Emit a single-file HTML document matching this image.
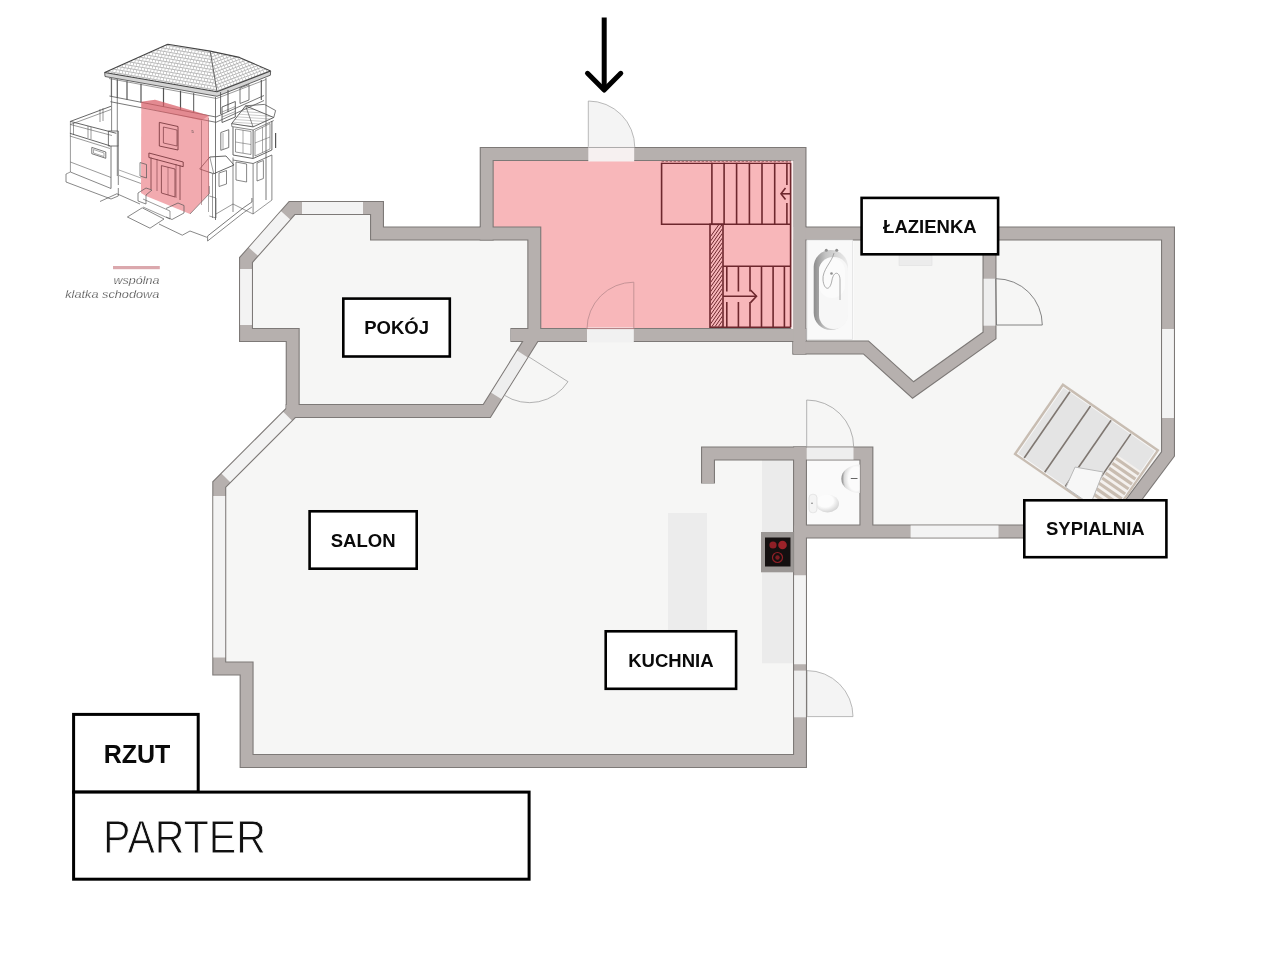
<!DOCTYPE html>
<html><head><meta charset="utf-8"><style>
html,body{margin:0;padding:0;background:#fff;width:1280px;height:960px;overflow:hidden;}
svg{position:absolute;left:0;top:0;transform:translateZ(0);}
text{font-family:"Liberation Sans",sans-serif;}
</style></head><body>
<svg width="1280" height="960" viewBox="0 0 1280 960">
<polygon points="292.00,208.00 377.00,208.00 377.00,233.50 486.70,233.50 486.70,154.00 799.50,154.00 799.50,233.50 1168.00,233.50 1168.00,454.00 1110.00,531.50 800.00,531.50 800.00,761.00 246.60,761.00 246.60,668.50 219.25,668.50 219.25,484.50 292.70,411.00 292.70,335.00 246.00,335.00 246.00,260.00" fill="#f6f6f5"/>
<polygon points="493,160.5 793.2,160.5 793.2,329 540.7,329 540.7,227.1 493,227.1" fill="#f8b7ba"/>
<path d="M588.3,147.5 L588.3,101 A46.5,46.5 0 0 1 634.8,147.5 Z" fill="#f4f4f4" stroke="#a8a8a8" stroke-width="0.8"/>
<path d="M807,716.6 L853,716.6 A46,46 0 0 0 807,670.6 Z" fill="#f4f4f4" stroke="#a8a8a8" stroke-width="0.8"/>
<rect x="806" y="459" width="54.5" height="67" fill="#fafafa"/>
<rect x="806" y="239" width="48" height="101" fill="#fafafa"/>
<rect x="762" y="459.8" width="31.7" height="203.5" fill="#ebebeb"/>
<rect x="668" y="513" width="39" height="117" fill="#ececec"/>
<polygon points="292.00,208.00 377.00,208.00 377.00,233.50 486.70,233.50 486.70,154.00 799.50,154.00 799.50,233.50 1168.00,233.50 1168.00,454.00 1110.00,531.50 800.00,531.50 800.00,761.00 246.60,761.00 246.60,668.50 219.25,668.50 219.25,484.50 292.70,411.00 292.70,335.00 246.00,335.00 246.00,260.00" fill="none" stroke="#7d7977" stroke-width="14.0" stroke-linejoin="miter" stroke-miterlimit="10"/>
<polyline points="285.70,411.00 486.80,411.00 534.30,335.00 534.30,233.50 479.70,233.50" fill="none" stroke="#7d7977" stroke-width="14.0" stroke-linejoin="miter"/>
<polyline points="510.40,335.00 806.50,335.00" fill="none" stroke="#7d7977" stroke-width="14.0" stroke-linejoin="miter"/>
<polyline points="792.50,347.50 866.00,347.50 913.00,390.00 989.50,335.50 989.50,226.50" fill="none" stroke="#7d7977" stroke-width="14.0" stroke-linejoin="miter"/>
<polyline points="708.00,483.60 708.00,453.50 866.40,453.50 866.40,532.10" fill="none" stroke="#7d7977" stroke-width="14.0" stroke-linejoin="miter"/>
<polyline points="800.00,446.50 800.00,532.10" fill="none" stroke="#7d7977" stroke-width="14.0" stroke-linejoin="miter"/>
<polyline points="799.50,226.50 799.50,354.60" fill="none" stroke="#7d7977" stroke-width="14.0" stroke-linejoin="miter"/>
<polygon points="292.00,208.00 377.00,208.00 377.00,233.50 486.70,233.50 486.70,154.00 799.50,154.00 799.50,233.50 1168.00,233.50 1168.00,454.00 1110.00,531.50 800.00,531.50 800.00,761.00 246.60,761.00 246.60,668.50 219.25,668.50 219.25,484.50 292.70,411.00 292.70,335.00 246.00,335.00 246.00,260.00" fill="none" stroke="#b6b0ae" stroke-width="11.8" stroke-linejoin="miter" stroke-miterlimit="10"/>
<polyline points="286.30,411.00 486.80,411.00 534.30,335.00 534.30,233.50 480.30,233.50" fill="none" stroke="#b6b0ae" stroke-width="11.8" stroke-linejoin="miter"/>
<polyline points="511.00,335.00 805.90,335.00" fill="none" stroke="#b6b0ae" stroke-width="11.8" stroke-linejoin="miter"/>
<polyline points="793.10,347.50 866.00,347.50 913.00,390.00 989.50,335.50 989.50,227.10" fill="none" stroke="#b6b0ae" stroke-width="11.8" stroke-linejoin="miter"/>
<polyline points="708.00,483.00 708.00,453.50 866.40,453.50 866.40,531.50" fill="none" stroke="#b6b0ae" stroke-width="11.8" stroke-linejoin="miter"/>
<polyline points="800.00,447.10 800.00,531.50" fill="none" stroke="#b6b0ae" stroke-width="11.8" stroke-linejoin="miter"/>
<polyline points="799.50,227.10 799.50,354.00" fill="none" stroke="#b6b0ae" stroke-width="11.8" stroke-linejoin="miter"/>
<polyline points="302.00,208.00 363.00,208.00" fill="none" stroke="#f3f3f3" stroke-width="11.8"/>
<polyline points="285.56,215.28 253.36,251.68" fill="none" stroke="#f3f3f3" stroke-width="11.8"/>
<polyline points="246.00,269.00 246.00,325.00" fill="none" stroke="#f3f3f3" stroke-width="11.8"/>
<polyline points="287.56,416.14 225.86,477.88" fill="none" stroke="#f3f3f3" stroke-width="11.8"/>
<polyline points="219.25,496.00 219.25,657.50" fill="none" stroke="#f3f3f3" stroke-width="11.8"/>
<polyline points="1168.00,329.00 1168.00,418.00" fill="none" stroke="#f3f3f3" stroke-width="11.8"/>
<polyline points="910.60,531.50 998.50,531.50" fill="none" stroke="#f3f3f3" stroke-width="11.8"/>
<polyline points="800.00,575.20 800.00,664.20" fill="none" stroke="#f3f3f3" stroke-width="11.8"/>
<polyline points="522.42,354.00 496.30,395.80" fill="none" stroke="#eeeeee" stroke-width="11.8"/>
<polyline points="806.70,453.50 853.50,453.50" fill="none" stroke="#eeeeee" stroke-width="11.8"/>
<polyline points="989.50,278.70 989.50,325.70" fill="none" stroke="#eeeeee" stroke-width="11.8"/>
<polyline points="800.00,670.60 800.00,717.30" fill="none" stroke="#eeeeee" stroke-width="11.8"/>
<line x1="588.3" y1="154" x2="634.2" y2="154" stroke="#f6f0f0" stroke-width="14.8"/>
<line x1="588.3" y1="147.5" x2="634.2" y2="147.5" stroke="#9a9a9a" stroke-width="0.8"/>
<line x1="587" y1="335" x2="633.8" y2="335" stroke="#f1f1f1" stroke-width="14.8"/>
<path d="M633.8,329 L633.8,282.2 A46.8,46.8 0 0 0 587,329" fill="none" stroke="#b98a8e" stroke-width="0.8"/>
<line x1="587" y1="328.6" x2="633.8" y2="328.6" stroke="#9c5a60" stroke-width="0.8"/>
<path d="M529,357 L568,381.7 A46,46 0 0 1 504,395" fill="none" stroke="#a0a0a0" stroke-width="0.8"/>
<path d="M806.7,447.1 L806.7,400 A47,47 0 0 1 853.7,447.1" fill="none" stroke="#a0a0a0" stroke-width="0.8"/>
<path d="M995.6,278.7 L996.5,325 L1042.3,325 A46.3,46.3 0 0 0 996,278.7" fill="none" stroke="#777" stroke-width="0.9"/>
<rect x="791.2" y="160.5" width="2.2" height="168.5" fill="#fbeeee"/>
<g stroke="#6d272d" stroke-width="1.6" fill="none">
<line x1="661.6" y1="161.4" x2="790.6" y2="161.4" stroke-dasharray="2.5,1.5" stroke-width="0.9" stroke="#9a5a60"/>
<line x1="661.6" y1="163.3" x2="790.6" y2="163.3" stroke-width="1.3"/>
<polyline points="661.6,162.8 661.6,224.3 790.6,224.3"/>
<line x1="711.9" y1="162.8" x2="711.9" y2="224.3"/>
<line x1="724.1" y1="162.8" x2="724.1" y2="224.3"/>
<line x1="736.6" y1="162.8" x2="736.6" y2="224.3"/>
<line x1="749.4" y1="162.8" x2="749.4" y2="224.3"/>
<line x1="762" y1="162.8" x2="762" y2="224.3"/>
<line x1="774.7" y1="162.8" x2="774.7" y2="224.3"/>
<line x1="786.9" y1="162.8" x2="786.9" y2="185"/>
<line x1="786.9" y1="203" x2="786.9" y2="224.3"/>
<line x1="781" y1="193.8" x2="790" y2="193.8"/>
<polyline points="785.5,188 781,193.8 785.5,199.6"/>
<line x1="790.6" y1="162.8" x2="790.6" y2="327.2"/>
<rect x="710" y="224.3" width="13" height="102.9"/>
</g>
<clipPath id="strc"><rect x="710.7" y="225" width="11.6" height="101.5"/></clipPath>
<g clip-path="url(#strc)" stroke="#6d272d" stroke-width="1">
<line x1="723.5" y1="218.0" x2="709.5" y2="238.0"/>
<line x1="723.5" y1="222.6" x2="709.5" y2="242.6"/>
<line x1="723.5" y1="227.2" x2="709.5" y2="247.2"/>
<line x1="723.5" y1="231.8" x2="709.5" y2="251.8"/>
<line x1="723.5" y1="236.4" x2="709.5" y2="256.4"/>
<line x1="723.5" y1="241.0" x2="709.5" y2="261.0"/>
<line x1="723.5" y1="245.6" x2="709.5" y2="265.6"/>
<line x1="723.5" y1="250.2" x2="709.5" y2="270.2"/>
<line x1="723.5" y1="254.8" x2="709.5" y2="274.8"/>
<line x1="723.5" y1="259.4" x2="709.5" y2="279.4"/>
<line x1="723.5" y1="264.0" x2="709.5" y2="284.0"/>
<line x1="723.5" y1="268.6" x2="709.5" y2="288.6"/>
<line x1="723.5" y1="273.2" x2="709.5" y2="293.2"/>
<line x1="723.5" y1="277.8" x2="709.5" y2="297.8"/>
<line x1="723.5" y1="282.4" x2="709.5" y2="302.4"/>
<line x1="723.5" y1="287.0" x2="709.5" y2="307.0"/>
<line x1="723.5" y1="291.6" x2="709.5" y2="311.6"/>
<line x1="723.5" y1="296.2" x2="709.5" y2="316.2"/>
<line x1="723.5" y1="300.8" x2="709.5" y2="320.8"/>
<line x1="723.5" y1="305.4" x2="709.5" y2="325.4"/>
<line x1="723.5" y1="310.0" x2="709.5" y2="330.0"/>
<line x1="723.5" y1="314.6" x2="709.5" y2="334.6"/>
<line x1="723.5" y1="319.2" x2="709.5" y2="339.2"/>
<line x1="723.5" y1="323.8" x2="709.5" y2="343.8"/>
<line x1="723.5" y1="328.4" x2="709.5" y2="348.4"/>
<line x1="723.5" y1="333.0" x2="709.5" y2="353.0"/>
<line x1="723.5" y1="337.6" x2="709.5" y2="357.6"/>
<line x1="723.5" y1="342.2" x2="709.5" y2="362.2"/>
<line x1="723.5" y1="346.8" x2="709.5" y2="366.8"/>
<line x1="723.5" y1="351.4" x2="709.5" y2="371.4"/>
</g>
<g stroke="#6d272d" stroke-width="1.6" fill="none">
<line x1="723" y1="266.3" x2="790.6" y2="266.3"/>
<line x1="723" y1="327.2" x2="790.6" y2="327.2"/>
<line x1="761.5" y1="266.3" x2="761.5" y2="327.2"/>
<line x1="773.1" y1="266.3" x2="773.1" y2="327.2"/>
<line x1="784.4" y1="266.3" x2="784.4" y2="327.2"/>
<line x1="726.8" y1="266.3" x2="726.8" y2="291.5"/>
<line x1="726.8" y1="302" x2="726.8" y2="327.2"/>
<line x1="738.4" y1="266.3" x2="738.4" y2="291.5"/>
<line x1="738.4" y1="302" x2="738.4" y2="327.2"/>
<line x1="750" y1="266.3" x2="750" y2="291.5"/>
<line x1="750" y1="302" x2="750" y2="327.2"/>
<line x1="723" y1="296.3" x2="756.3" y2="296.3"/>
<polyline points="750.5,290 756.5,296.3 750.5,302.6"/>
</g>
<rect x="807" y="240" width="45.5" height="99.5" fill="#f9f9f9" stroke="#e2e2e2" stroke-width="0.8"/>
<defs><linearGradient id="tubg" x1="0" y1="0" x2="1" y2="0"><stop offset="0" stop-color="#8c8c8c"/><stop offset="0.35" stop-color="#c4c4c4"/><stop offset="1" stop-color="#ececec"/></linearGradient></defs>
<rect x="813.7" y="250" width="34.3" height="80" rx="17" ry="17" fill="url(#tubg)"/>
<rect x="819" y="257" width="29" height="72" rx="14" ry="14" fill="#f7f7f7"/>
<rect x="819" y="258" width="26" height="40" rx="13" ry="13" fill="#fbfbfb"/>
<path d="M834,253 C 832,262 822,270 823,280 C 824,290 830,292 832,280 C 834,270 840,272 840,280 L 840,300" fill="none" stroke="#8a8a8a" stroke-width="0.7"/>
<circle cx="826.3" cy="250.3" r="1.5" fill="#8e8e8e"/><circle cx="836.7" cy="250.3" r="1.5" fill="#8e8e8e"/><circle cx="831.5" cy="273.5" r="1.3" fill="#8e8e8e"/>
<rect x="899" y="255.6" width="33" height="10" fill="#ececec" stroke="#e0e0e0" stroke-width="0.6"/>
<defs><radialGradient id="sinkg" cx="80%" cy="50%" r="75%"><stop offset="0.55" stop-color="#fbfbfb"/><stop offset="0.85" stop-color="#dcdcdc"/><stop offset="1" stop-color="#9a9a9a"/></radialGradient></defs>
<path d="M859.8,464.6 A18.5,14.2 0 0 0 859.8,493 Z" fill="url(#sinkg)"/>
<path d="M857.5,478.5 l-6.7,0" stroke="#666" stroke-width="1"/>
<defs><radialGradient id="toig" cx="40%" cy="35%" r="70%"><stop offset="0.5" stop-color="#fcfcfc"/><stop offset="1" stop-color="#cfcfcf"/></radialGradient></defs>
<ellipse cx="827.5" cy="503.5" rx="11.5" ry="9" fill="url(#toig)"/>
<rect x="809" y="494.3" width="8" height="18.4" rx="3.5" fill="#f4f4f4" stroke="#d9d9d9" stroke-width="0.6"/>
<circle cx="812" cy="503.3" r="0.8" fill="#777"/>
<rect x="761" y="532" width="32.7" height="40.3" fill="#9b9795"/>
<rect x="765" y="537.5" width="25.5" height="29" fill="#141010"/>
<circle cx="773" cy="545" r="3.6" fill="#8f1f26"/><circle cx="782.5" cy="545" r="4.3" fill="#9b2229"/>
<circle cx="777.5" cy="557.5" r="5" fill="none" stroke="#8f1f26" stroke-width="1.2"/><circle cx="777.5" cy="557.5" r="2.2" fill="#7a1c22"/>
<g transform="translate(1062.6,383.1) rotate(34.66)">
<rect x="0" y="0" width="117.8" height="86.5" fill="#c8bdb2"/>
<rect x="2.4" y="2.4" width="113" height="81.7" fill="#f8f8f8"/>
<rect x="3.4" y="3.4" width="111" height="79.7" fill="#e4e4e4"/>
<line x1="11" y1="3" x2="11" y2="83.5" stroke="#7f7771" stroke-width="1.6"/>
<line x1="36" y1="3" x2="36" y2="83.5" stroke="#7f7771" stroke-width="1.6"/>
<line x1="61" y1="3" x2="61" y2="83.5" stroke="#7f7771" stroke-width="1.6"/>
<line x1="85" y1="3" x2="85" y2="83.5" stroke="#7f7771" stroke-width="1.6"/>
<rect x="86.5" y="28" width="28" height="56" fill="#f4f1ee"/>
<rect x="86.5" y="30" width="28" height="3.2" fill="#c9bdb1"/>
<rect x="86.5" y="36" width="28" height="3.2" fill="#c9bdb1"/>
<rect x="86.5" y="42" width="28" height="3.2" fill="#c9bdb1"/>
<rect x="86.5" y="48" width="28" height="3.2" fill="#c9bdb1"/>
<rect x="86.5" y="54" width="28" height="3.2" fill="#c9bdb1"/>
<rect x="86.5" y="60" width="28" height="3.2" fill="#c9bdb1"/>
<rect x="86.5" y="66" width="28" height="3.2" fill="#c9bdb1"/>
<rect x="86.5" y="72" width="28" height="3.2" fill="#c9bdb1"/>
<rect x="86.5" y="78" width="28" height="3.2" fill="#c9bdb1"/>
<path d="M58,62 L84,50 L92,84 L62,84 Z" fill="#f7f7f7" stroke="#b9b9b9" stroke-width="0.9"/>
</g>
<g>
<clipPath id="roofL"><polygon points="167.7,44.2 210.2,51.1 217,91.8 104.7,72.5"/></clipPath>
<clipPath id="roofR"><polygon points="210.2,51.1 239.4,57.4 270.6,71 217,91.8"/></clipPath>
<g clip-path="url(#roofL)" stroke="#7d7d7d" stroke-width="0.55">
<line x1="100" y1="27.2" x2="220" y2="47.8"/>
<line x1="100.0" y1="28.8" x2="220.0" y2="49.4" stroke-dasharray="0.7,2.5" stroke-width="2.4" stroke="#b5b5b5"/>
<line x1="100" y1="30.5" x2="220" y2="51.1"/>
<line x1="101.6" y1="32.1" x2="221.6" y2="52.7" stroke-dasharray="0.7,2.5" stroke-width="2.4" stroke="#b5b5b5"/>
<line x1="100" y1="33.8" x2="220" y2="54.4"/>
<line x1="100.0" y1="35.4" x2="220.0" y2="56.0" stroke-dasharray="0.7,2.5" stroke-width="2.4" stroke="#b5b5b5"/>
<line x1="100" y1="37.1" x2="220" y2="57.7"/>
<line x1="101.6" y1="38.7" x2="221.6" y2="59.3" stroke-dasharray="0.7,2.5" stroke-width="2.4" stroke="#b5b5b5"/>
<line x1="100" y1="40.4" x2="220" y2="61.0"/>
<line x1="100.0" y1="42.0" x2="220.0" y2="62.6" stroke-dasharray="0.7,2.5" stroke-width="2.4" stroke="#b5b5b5"/>
<line x1="100" y1="43.7" x2="220" y2="64.3"/>
<line x1="101.6" y1="45.3" x2="221.6" y2="65.9" stroke-dasharray="0.7,2.5" stroke-width="2.4" stroke="#b5b5b5"/>
<line x1="100" y1="47.0" x2="220" y2="67.6"/>
<line x1="100.0" y1="48.6" x2="220.0" y2="69.2" stroke-dasharray="0.7,2.5" stroke-width="2.4" stroke="#b5b5b5"/>
<line x1="100" y1="50.3" x2="220" y2="70.9"/>
<line x1="101.6" y1="51.9" x2="221.6" y2="72.5" stroke-dasharray="0.7,2.5" stroke-width="2.4" stroke="#b5b5b5"/>
<line x1="100" y1="53.6" x2="220" y2="74.2"/>
<line x1="100.0" y1="55.2" x2="220.0" y2="75.8" stroke-dasharray="0.7,2.5" stroke-width="2.4" stroke="#b5b5b5"/>
<line x1="100" y1="56.9" x2="220" y2="77.5"/>
<line x1="101.6" y1="58.5" x2="221.6" y2="79.1" stroke-dasharray="0.7,2.5" stroke-width="2.4" stroke="#b5b5b5"/>
<line x1="100" y1="60.2" x2="220" y2="80.8"/>
<line x1="100.0" y1="61.8" x2="220.0" y2="82.4" stroke-dasharray="0.7,2.5" stroke-width="2.4" stroke="#b5b5b5"/>
<line x1="100" y1="63.5" x2="220" y2="84.1"/>
<line x1="101.6" y1="65.1" x2="221.6" y2="85.7" stroke-dasharray="0.7,2.5" stroke-width="2.4" stroke="#b5b5b5"/>
<line x1="100" y1="66.8" x2="220" y2="87.4"/>
<line x1="100.0" y1="68.4" x2="220.0" y2="89.0" stroke-dasharray="0.7,2.5" stroke-width="2.4" stroke="#b5b5b5"/>
<line x1="100" y1="70.1" x2="220" y2="90.7"/>
<line x1="101.6" y1="71.7" x2="221.6" y2="92.3" stroke-dasharray="0.7,2.5" stroke-width="2.4" stroke="#b5b5b5"/>
<line x1="100" y1="73.4" x2="220" y2="94.0"/>
<line x1="100.0" y1="75.0" x2="220.0" y2="95.6" stroke-dasharray="0.7,2.5" stroke-width="2.4" stroke="#b5b5b5"/>
<line x1="100" y1="76.7" x2="220" y2="97.3"/>
<line x1="101.6" y1="78.3" x2="221.6" y2="98.9" stroke-dasharray="0.7,2.5" stroke-width="2.4" stroke="#b5b5b5"/>
<line x1="100" y1="80.0" x2="220" y2="100.6"/>
<line x1="100.0" y1="81.6" x2="220.0" y2="102.2" stroke-dasharray="0.7,2.5" stroke-width="2.4" stroke="#b5b5b5"/>
<line x1="100" y1="83.3" x2="220" y2="103.9"/>
<line x1="101.6" y1="84.9" x2="221.6" y2="105.5" stroke-dasharray="0.7,2.5" stroke-width="2.4" stroke="#b5b5b5"/>
<line x1="100" y1="86.6" x2="220" y2="107.2"/>
<line x1="100.0" y1="88.2" x2="220.0" y2="108.8" stroke-dasharray="0.7,2.5" stroke-width="2.4" stroke="#b5b5b5"/>
<line x1="100" y1="89.9" x2="220" y2="110.5"/>
<line x1="101.6" y1="91.5" x2="221.6" y2="112.1" stroke-dasharray="0.7,2.5" stroke-width="2.4" stroke="#b5b5b5"/>
<line x1="100" y1="93.2" x2="220" y2="113.8"/>
<line x1="100.0" y1="94.8" x2="220.0" y2="115.4" stroke-dasharray="0.7,2.5" stroke-width="2.4" stroke="#b5b5b5"/>
<line x1="100" y1="96.5" x2="220" y2="117.1"/>
<line x1="101.6" y1="98.1" x2="221.6" y2="118.7" stroke-dasharray="0.7,2.5" stroke-width="2.4" stroke="#b5b5b5"/>
<line x1="100" y1="99.8" x2="220" y2="120.4"/>
<line x1="100.0" y1="101.4" x2="220.0" y2="122.0" stroke-dasharray="0.7,2.5" stroke-width="2.4" stroke="#b5b5b5"/>
</g>
<g clip-path="url(#roofR)" stroke="#7d7d7d" stroke-width="0.55">
<line x1="205" y1="52.9" x2="275" y2="25.9"/>
<line x1="206.6" y1="54.5" x2="276.6" y2="27.5" stroke-dasharray="0.7,2.5" stroke-width="2.4" stroke="#b5b5b5"/>
<line x1="205" y1="56.2" x2="275" y2="29.2"/>
<line x1="205.0" y1="57.8" x2="275.0" y2="30.8" stroke-dasharray="0.7,2.5" stroke-width="2.4" stroke="#b5b5b5"/>
<line x1="205" y1="59.5" x2="275" y2="32.5"/>
<line x1="206.6" y1="61.1" x2="276.6" y2="34.1" stroke-dasharray="0.7,2.5" stroke-width="2.4" stroke="#b5b5b5"/>
<line x1="205" y1="62.8" x2="275" y2="35.8"/>
<line x1="205.0" y1="64.4" x2="275.0" y2="37.4" stroke-dasharray="0.7,2.5" stroke-width="2.4" stroke="#b5b5b5"/>
<line x1="205" y1="66.1" x2="275" y2="39.1"/>
<line x1="206.6" y1="67.7" x2="276.6" y2="40.7" stroke-dasharray="0.7,2.5" stroke-width="2.4" stroke="#b5b5b5"/>
<line x1="205" y1="69.4" x2="275" y2="42.4"/>
<line x1="205.0" y1="71.0" x2="275.0" y2="44.0" stroke-dasharray="0.7,2.5" stroke-width="2.4" stroke="#b5b5b5"/>
<line x1="205" y1="72.7" x2="275" y2="45.7"/>
<line x1="206.6" y1="74.3" x2="276.6" y2="47.3" stroke-dasharray="0.7,2.5" stroke-width="2.4" stroke="#b5b5b5"/>
<line x1="205" y1="76.0" x2="275" y2="49.0"/>
<line x1="205.0" y1="77.6" x2="275.0" y2="50.6" stroke-dasharray="0.7,2.5" stroke-width="2.4" stroke="#b5b5b5"/>
<line x1="205" y1="79.3" x2="275" y2="52.3"/>
<line x1="206.6" y1="80.9" x2="276.6" y2="53.9" stroke-dasharray="0.7,2.5" stroke-width="2.4" stroke="#b5b5b5"/>
<line x1="205" y1="82.6" x2="275" y2="55.6"/>
<line x1="205.0" y1="84.2" x2="275.0" y2="57.2" stroke-dasharray="0.7,2.5" stroke-width="2.4" stroke="#b5b5b5"/>
<line x1="205" y1="85.9" x2="275" y2="58.9"/>
<line x1="206.6" y1="87.5" x2="276.6" y2="60.5" stroke-dasharray="0.7,2.5" stroke-width="2.4" stroke="#b5b5b5"/>
<line x1="205" y1="89.2" x2="275" y2="62.2"/>
<line x1="205.0" y1="90.8" x2="275.0" y2="63.8" stroke-dasharray="0.7,2.5" stroke-width="2.4" stroke="#b5b5b5"/>
<line x1="205" y1="92.5" x2="275" y2="65.5"/>
<line x1="206.6" y1="94.1" x2="276.6" y2="67.1" stroke-dasharray="0.7,2.5" stroke-width="2.4" stroke="#b5b5b5"/>
<line x1="205" y1="95.8" x2="275" y2="68.8"/>
<line x1="205.0" y1="97.4" x2="275.0" y2="70.4" stroke-dasharray="0.7,2.5" stroke-width="2.4" stroke="#b5b5b5"/>
<line x1="205" y1="99.1" x2="275" y2="72.1"/>
<line x1="206.6" y1="100.7" x2="276.6" y2="73.7" stroke-dasharray="0.7,2.5" stroke-width="2.4" stroke="#b5b5b5"/>
<line x1="205" y1="102.4" x2="275" y2="75.4"/>
<line x1="205.0" y1="104.0" x2="275.0" y2="77.0" stroke-dasharray="0.7,2.5" stroke-width="2.4" stroke="#b5b5b5"/>
<line x1="205" y1="105.7" x2="275" y2="78.7"/>
<line x1="206.6" y1="107.3" x2="276.6" y2="80.3" stroke-dasharray="0.7,2.5" stroke-width="2.4" stroke="#b5b5b5"/>
<line x1="205" y1="109.0" x2="275" y2="82.0"/>
<line x1="205.0" y1="110.6" x2="275.0" y2="83.6" stroke-dasharray="0.7,2.5" stroke-width="2.4" stroke="#b5b5b5"/>
<line x1="205" y1="112.3" x2="275" y2="85.3"/>
<line x1="206.6" y1="113.9" x2="276.6" y2="86.9" stroke-dasharray="0.7,2.5" stroke-width="2.4" stroke="#b5b5b5"/>
<line x1="205" y1="115.6" x2="275" y2="88.6"/>
<line x1="205.0" y1="117.2" x2="275.0" y2="90.2" stroke-dasharray="0.7,2.5" stroke-width="2.4" stroke="#b5b5b5"/>
<line x1="205" y1="118.9" x2="275" y2="91.9"/>
<line x1="206.6" y1="120.5" x2="276.6" y2="93.5" stroke-dasharray="0.7,2.5" stroke-width="2.4" stroke="#b5b5b5"/>
<line x1="205" y1="122.2" x2="275" y2="95.2"/>
<line x1="205.0" y1="123.8" x2="275.0" y2="96.8" stroke-dasharray="0.7,2.5" stroke-width="2.4" stroke="#b5b5b5"/>
<line x1="205" y1="125.5" x2="275" y2="98.5"/>
<line x1="206.6" y1="127.1" x2="276.6" y2="100.1" stroke-dasharray="0.7,2.5" stroke-width="2.4" stroke="#b5b5b5"/>
</g>
<polygon points="104.7,72.5 217,91.8 270.6,71 270.4,75.2 217,96.3 105,76.5" fill="#d4d4d4"/>
<polyline points="167.70,44.20 210.20,51.10 239.40,57.40 270.60,71.00 217.00,91.80 104.70,72.50 167.70,44.20" fill="none" stroke="#444" stroke-width="1.1" stroke-linejoin="round"/>
<polyline points="210.20,51.10 217.00,91.80" fill="none" stroke="#555" stroke-width="0.9" stroke-linejoin="round"/>
<polyline points="104.70,72.50 105.00,76.50 217.00,96.30 270.40,75.20 270.60,71.00" fill="none" stroke="#555" stroke-width="0.9" stroke-linejoin="round"/>
<polyline points="109.00,78.50 216.50,98.50 266.00,79.50" fill="none" stroke="#555" stroke-width="0.6" stroke-linejoin="round"/>
<polyline points="111.30,78.61 111.30,96.86" fill="none" stroke="#555" stroke-width="0.8" stroke-linejoin="round"/>
<polyline points="117.30,79.66 117.30,98.00" fill="none" stroke="#555" stroke-width="0.8" stroke-linejoin="round"/>
<polyline points="127.00,81.37 127.00,99.84" fill="none" stroke="#555" stroke-width="1.2" stroke-linejoin="round"/>
<polyline points="141.00,83.84 141.00,102.50" fill="none" stroke="#555" stroke-width="1.2" stroke-linejoin="round"/>
<polyline points="163.50,87.80 163.50,106.78" fill="none" stroke="#555" stroke-width="1.2" stroke-linejoin="round"/>
<polyline points="180.50,90.79 180.50,110.01" fill="none" stroke="#555" stroke-width="1.2" stroke-linejoin="round"/>
<polyline points="193.70,93.11 193.70,112.52" fill="none" stroke="#555" stroke-width="1" stroke-linejoin="round"/>
<polyline points="109.40,96.00 216.00,117.00" fill="none" stroke="#555" stroke-width="0.8" stroke-linejoin="round"/>
<polyline points="110.40,101.70 216.00,122.30" fill="none" stroke="#555" stroke-width="0.8" stroke-linejoin="round"/>
<polyline points="111.60,78.00 111.60,131.00" fill="none" stroke="#555" stroke-width="0.7" stroke-linejoin="round"/>
<polyline points="117.30,79.00 117.30,176.00" fill="none" stroke="#555" stroke-width="0.7" stroke-linejoin="round"/>
<polyline points="119.00,175.50 141.00,183.50" fill="none" stroke="#555" stroke-width="0.6" stroke-linejoin="round"/>
<polyline points="119.00,170.00 141.00,178.00" fill="none" stroke="#555" stroke-width="0.5" stroke-linejoin="round"/>
<polyline points="215.50,97.00 215.50,220.00" fill="none" stroke="#555" stroke-width="0.8" stroke-linejoin="round"/>
<polyline points="208.50,118.00 208.50,212.00" fill="none" stroke="#555" stroke-width="0.5" stroke-linejoin="round"/>
<polyline points="266.00,78.00 266.00,200.00" fill="none" stroke="#555" stroke-width="0.8" stroke-linejoin="round"/>
<polyline points="261.30,80.00 261.30,100.00" fill="none" stroke="#555" stroke-width="1.1" stroke-linejoin="round"/>
<polyline points="216.00,117.00 264.00,95.50" fill="none" stroke="#555" stroke-width="0.8" stroke-linejoin="round"/>
<polyline points="216.00,122.30 264.00,100.50" fill="none" stroke="#555" stroke-width="0.8" stroke-linejoin="round"/>
<polygon points="240.00,88.00 249.00,84.50 249.00,100.00 240.00,103.50" fill="none" stroke="#555" stroke-width="0.8" stroke-linejoin="round"/>
<polyline points="220.60,92.00 220.60,114.00" fill="none" stroke="#555" stroke-width="0.9" stroke-linejoin="round"/>
<polyline points="228.00,90.00 228.00,112.00" fill="none" stroke="#555" stroke-width="1" stroke-linejoin="round"/>
<polygon points="222.00,107.00 235.30,101.50 235.30,117.00 222.00,122.50" fill="none" stroke="#555" stroke-width="0.9" stroke-linejoin="round"/>
<polyline points="222.00,112.00 235.30,106.50" fill="none" stroke="#555" stroke-width="0.5" stroke-linejoin="round"/>
<polyline points="222.00,117.00 235.30,111.50" fill="none" stroke="#555" stroke-width="0.5" stroke-linejoin="round"/>
<polygon points="220.80,132.50 228.75,129.70 228.75,147.50 220.80,150.30" fill="none" stroke="#555" stroke-width="0.8" stroke-linejoin="round"/>
<polyline points="223.00,133.00 223.00,149.00" fill="none" stroke="#555" stroke-width="0.5" stroke-linejoin="round"/>
<clipPath id="bayR"><polygon points="245.6,105.8 231.6,123.6 253.1,126.9 273.75,117.5"/></clipPath>
<g clip-path="url(#bayR)" stroke="#8a8a8a" stroke-width="0.45">
<line x1="230" y1="108.0" x2="276" y2="111.0"/>
<line x1="230" y1="110.8" x2="276" y2="113.8"/>
<line x1="230" y1="113.6" x2="276" y2="116.6"/>
<line x1="230" y1="116.4" x2="276" y2="119.4"/>
<line x1="230" y1="119.2" x2="276" y2="122.2"/>
<line x1="230" y1="122.0" x2="276" y2="125.0"/>
<line x1="230" y1="124.8" x2="276" y2="127.8"/>
<line x1="230" y1="127.6" x2="276" y2="130.6"/>
</g>
<polyline points="245.60,105.80 231.60,123.60 253.10,126.90 273.75,117.50 245.60,105.80" fill="none" stroke="#555" stroke-width="0.9" stroke-linejoin="round"/>
<polyline points="245.60,105.80 253.10,126.90" fill="none" stroke="#555" stroke-width="0.7" stroke-linejoin="round"/>
<polyline points="245.60,105.80 264.40,104.40 275.60,110.50 273.75,117.50" fill="none" stroke="#555" stroke-width="0.8" stroke-linejoin="round"/>
<polyline points="231.60,123.60 231.80,126.50 253.10,130.00 273.75,120.50" fill="none" stroke="#555" stroke-width="0.7" stroke-linejoin="round"/>
<polyline points="233.00,127.00 233.00,155.00" fill="none" stroke="#555" stroke-width="0.9" stroke-linejoin="round"/>
<polyline points="253.10,130.00 253.10,158.00" fill="none" stroke="#555" stroke-width="0.9" stroke-linejoin="round"/>
<polyline points="271.90,121.00 271.90,150.00" fill="none" stroke="#555" stroke-width="0.9" stroke-linejoin="round"/>
<polygon points="235.50,129.00 235.50,152.00 251.00,154.50 251.00,131.50" fill="none" stroke="#555" stroke-width="0.6" stroke-linejoin="round"/>
<polyline points="243.00,130.00 243.00,153.00" fill="none" stroke="#555" stroke-width="0.5" stroke-linejoin="round"/>
<polyline points="235.50,142.00 251.00,144.50" fill="none" stroke="#555" stroke-width="0.5" stroke-linejoin="round"/>
<polygon points="255.00,131.00 255.00,156.00 270.00,149.00 270.00,123.50" fill="none" stroke="#555" stroke-width="0.6" stroke-linejoin="round"/>
<polyline points="262.50,127.00 262.50,152.50" fill="none" stroke="#555" stroke-width="0.5" stroke-linejoin="round"/>
<polyline points="255.00,143.00 270.00,137.00" fill="none" stroke="#555" stroke-width="0.5" stroke-linejoin="round"/>
<polyline points="233.00,155.00 253.10,158.50 271.90,150.00" fill="none" stroke="#555" stroke-width="0.9" stroke-linejoin="round"/>
<polyline points="233.00,160.00 253.10,163.50 271.90,155.00" fill="none" stroke="#555" stroke-width="0.8" stroke-linejoin="round"/>
<polyline points="233.00,157.50 233.00,212.00" fill="none" stroke="#555" stroke-width="0.7" stroke-linejoin="round"/>
<polyline points="253.10,163.50 253.10,214.00" fill="none" stroke="#555" stroke-width="0.7" stroke-linejoin="round"/>
<polyline points="271.90,155.00 271.90,200.00" fill="none" stroke="#555" stroke-width="0.7" stroke-linejoin="round"/>
<polygon points="236.00,162.00 236.00,180.00 246.60,182.00 246.60,164.00" fill="none" stroke="#555" stroke-width="0.7" stroke-linejoin="round"/>
<polygon points="257.00,163.00 257.00,181.00 263.40,178.50 263.40,160.50" fill="none" stroke="#555" stroke-width="0.7" stroke-linejoin="round"/>
<polyline points="275.60,133.00 275.60,148.00" fill="none" stroke="#555" stroke-width="1.2" stroke-linejoin="round"/>
<polyline points="199.70,169.00 209.80,157.00 226.00,156.00 234.00,165.00 213.75,173.75 199.70,169.00" fill="none" stroke="#555" stroke-width="0.9" stroke-linejoin="round"/>
<polyline points="209.80,157.00 213.75,173.75" fill="none" stroke="#555" stroke-width="0.6" stroke-linejoin="round"/>
<polygon points="219.00,173.00 219.00,186.50 226.50,184.00 226.50,170.50" fill="none" stroke="#555" stroke-width="0.7" stroke-linejoin="round"/>
<polyline points="70.40,121.40 111.00,106.25" fill="none" stroke="#555" stroke-width="0.9" stroke-linejoin="round"/>
<polyline points="70.40,124.50 111.00,109.50" fill="none" stroke="#555" stroke-width="0.6" stroke-linejoin="round"/>
<polyline points="70.40,121.40 116.25,133.30" fill="none" stroke="#555" stroke-width="0.9" stroke-linejoin="round"/>
<polyline points="70.40,124.50 112.00,135.50" fill="none" stroke="#555" stroke-width="0.6" stroke-linejoin="round"/>
<polyline points="69.90,133.30 110.00,145.80" fill="none" stroke="#555" stroke-width="0.9" stroke-linejoin="round"/>
<polyline points="69.90,136.00 110.00,148.50" fill="none" stroke="#555" stroke-width="0.6" stroke-linejoin="round"/>
<polygon points="108.40,131.00 118.30,131.00 118.30,146.00 108.40,146.00" fill="none" stroke="#555" stroke-width="0.8" stroke-linejoin="round"/>
<polyline points="70.40,121.00 70.40,172.00" fill="none" stroke="#555" stroke-width="0.6" stroke-linejoin="round"/>
<polyline points="73.50,123.00 73.50,135.00" fill="none" stroke="#555" stroke-width="0.6" stroke-linejoin="round"/>
<polyline points="88.00,126.00 88.00,138.00" fill="none" stroke="#555" stroke-width="0.6" stroke-linejoin="round"/>
<polyline points="91.00,127.00 91.00,139.00" fill="none" stroke="#555" stroke-width="0.6" stroke-linejoin="round"/>
<polyline points="100.00,109.00 100.00,122.00" fill="none" stroke="#555" stroke-width="0.6" stroke-linejoin="round"/>
<polyline points="103.00,108.00 103.00,121.00" fill="none" stroke="#555" stroke-width="0.6" stroke-linejoin="round"/>
<polyline points="111.00,146.00 111.00,188.50" fill="none" stroke="#555" stroke-width="0.8" stroke-linejoin="round"/>
<polyline points="118.30,146.00 118.30,185.00" fill="none" stroke="#555" stroke-width="0.7" stroke-linejoin="round"/>
<polyline points="70.40,162.00 111.00,177.50" fill="none" stroke="#555" stroke-width="0.6" stroke-linejoin="round"/>
<polyline points="70.40,172.00 111.00,188.50" fill="none" stroke="#555" stroke-width="0.7" stroke-linejoin="round"/>
<polyline points="66.00,174.00 66.00,182.00 111.00,199.00 118.30,196.00 118.30,188.00" fill="none" stroke="#555" stroke-width="0.7" stroke-linejoin="round"/>
<polyline points="66.00,174.00 70.40,172.00" fill="none" stroke="#555" stroke-width="0.6" stroke-linejoin="round"/>
<polygon points="91.80,147.40 105.80,152.00 105.80,158.30 91.80,153.70" fill="none" stroke="#555" stroke-width="0.8" stroke-linejoin="round"/>
<polygon points="93.50,149.50 104.00,153.00 104.00,156.50 93.50,153.00" fill="none" stroke="#555" stroke-width="0.5" stroke-linejoin="round"/>
<polygon points="141.25,101.7 155,99.8 208.75,115.6 209.3,193.75 190,214 146,196 141,193" fill="#e8646e" fill-opacity="0.55"/>
<polygon points="141.25,101.7 155,99.8 208.75,115.6 201.5,120.5 141.25,107" fill="#c9505a" fill-opacity="0.35"/>
<polygon points="159.30,122.40 178.00,126.50 178.00,150.00 159.30,146.00" fill="none" stroke="#7a3a40" stroke-width="0.9" stroke-linejoin="round"/>
<polygon points="163.40,127.00 177.00,130.00 177.00,146.00 163.40,143.00" fill="none" stroke="#7a3a40" stroke-width="0.7" stroke-linejoin="round"/>
<polygon points="148.90,153.00 183.20,162.00 183.20,166.70 148.90,157.50" fill="none" stroke="#7a3a40" stroke-width="0.9" stroke-linejoin="round"/>
<polyline points="151.00,157.50 151.00,189.00" fill="none" stroke="#7a3a40" stroke-width="0.8" stroke-linejoin="round"/>
<polyline points="157.00,159.00 157.00,191.00" fill="none" stroke="#7a3a40" stroke-width="0.6" stroke-linejoin="round"/>
<polyline points="176.00,164.00 176.00,198.00" fill="none" stroke="#7a3a40" stroke-width="0.6" stroke-linejoin="round"/>
<polyline points="180.00,165.50 180.00,200.00" fill="none" stroke="#7a3a40" stroke-width="0.8" stroke-linejoin="round"/>
<polygon points="161.40,165.60 175.00,169.00 175.00,197.00 161.40,193.00" fill="none" stroke="#7a3a40" stroke-width="0.8" stroke-linejoin="round"/>
<polyline points="168.00,167.00 168.00,195.00" fill="none" stroke="#7a3a40" stroke-width="0.5" stroke-linejoin="round"/>
<polyline points="201.50,120.50 201.50,205.00" fill="none" stroke="#8a4a50" stroke-width="0.5" stroke-linejoin="round"/>
<polygon points="140.00,162.50 146.50,164.50 146.50,178.00 140.00,176.00" fill="none" stroke="#555" stroke-width="0.7" stroke-linejoin="round"/>
<text x="191.6" y="132.5" font-size="4" fill="#333">5</text>
<polyline points="138.00,193.00 146.00,188.00 152.00,190.00 146.00,195.00 146.00,204.00 138.00,201.00 138.00,193.00" fill="none" stroke="#555" stroke-width="0.7" stroke-linejoin="round"/>
<polyline points="143.00,199.00 170.00,211.00 170.00,219.00 143.00,207.00" fill="none" stroke="#555" stroke-width="0.6" stroke-linejoin="round"/>
<polyline points="166.00,208.50 178.00,203.00 184.00,205.50 184.00,213.00 172.00,219.50 166.00,217.00" fill="none" stroke="#555" stroke-width="0.7" stroke-linejoin="round"/>
<polyline points="127.40,217.00 150.00,228.20 164.00,219.00 142.20,207.80 127.40,217.00" fill="none" stroke="#555" stroke-width="0.7" stroke-linejoin="round"/>
<polyline points="159.00,224.00 182.30,235.20 190.00,231.00 206.90,237.30" fill="none" stroke="#555" stroke-width="0.7" stroke-linejoin="round"/>
<polyline points="100.00,201.50 116.90,193.75 140.00,204.00" fill="none" stroke="#555" stroke-width="0.7" stroke-linejoin="round"/>
<polyline points="207.60,236.00 243.40,207.80 251.90,202.00 251.90,198.00" fill="none" stroke="#555" stroke-width="0.8" stroke-linejoin="round"/>
<polyline points="207.60,241.00 243.40,212.80 251.90,207.00" fill="none" stroke="#555" stroke-width="0.7" stroke-linejoin="round"/>
<polyline points="207.60,236.00 207.60,241.00" fill="none" stroke="#555" stroke-width="0.7" stroke-linejoin="round"/>
<polyline points="190.00,214.00 209.30,193.75 209.30,186.00" fill="none" stroke="#555" stroke-width="0.6" stroke-linejoin="round"/>
<polyline points="209.30,196.00 216.00,198.00 216.00,218.00 209.30,216.00" fill="none" stroke="#555" stroke-width="0.6" stroke-linejoin="round"/>
<polyline points="216.00,214.00 233.00,204.00 253.00,214.00 272.00,200.00" fill="none" stroke="#555" stroke-width="0.6" stroke-linejoin="round"/>
<polyline points="212.50,174.00 212.50,218.00" fill="none" stroke="#555" stroke-width="0.6" stroke-linejoin="round"/>
</g>
<rect x="343.30" y="298.60" width="106.50" height="57.90" fill="#fff" stroke="#000" stroke-width="2.6"/>
<text x="396.55" y="334.29" font-size="18.5" font-weight="bold" text-anchor="middle" fill="#0a0a0a">POKÓJ</text>
<rect x="309.60" y="511.30" width="107.10" height="57.40" fill="#fff" stroke="#000" stroke-width="2.6"/>
<text x="363.15" y="546.74" font-size="18.5" font-weight="bold" text-anchor="middle" fill="#0a0a0a">SALON</text>
<rect x="605.70" y="631.30" width="130.40" height="57.50" fill="#fff" stroke="#000" stroke-width="2.6"/>
<text x="670.90" y="666.79" font-size="18.5" font-weight="bold" text-anchor="middle" fill="#0a0a0a">KUCHNIA</text>
<rect x="861.60" y="197.90" width="136.50" height="56.40" fill="#fff" stroke="#000" stroke-width="2.6"/>
<text x="929.85" y="232.84" font-size="18.5" font-weight="bold" text-anchor="middle" fill="#0a0a0a">ŁAZIENKA</text>
<rect x="1024.30" y="500.30" width="142.10" height="56.90" fill="#fff" stroke="#000" stroke-width="2.6"/>
<text x="1095.35" y="535.49" font-size="18.5" font-weight="bold" text-anchor="middle" fill="#0a0a0a">SYPIALNIA</text>
<rect x="73.6" y="714.4" width="124.6" height="77.7" fill="#fff" stroke="#000" stroke-width="3"/>
<rect x="73.6" y="792.1" width="455.5" height="87.1" fill="#fff" stroke="#000" stroke-width="3"/>
<text x="137" y="762.9" font-size="25" font-weight="bold" text-anchor="middle" fill="#0a0a0a">RZUT</text>
<text x="103" y="852.5" font-size="45.5" fill="#111" stroke="#fff" stroke-width="0.9" textLength="163" lengthAdjust="spacingAndGlyphs">PARTER</text>
<line x1="604.2" y1="17.5" x2="604.2" y2="90" stroke="#000" stroke-width="5"/>
<polyline points="587.5,73.3 604.2,90 620.8,73.3" fill="none" stroke="#000" stroke-width="5" stroke-linecap="round" stroke-linejoin="round"/>
<rect x="113" y="266" width="46.8" height="3.2" fill="#dba8ad"/>
<text x="159.4" y="283.75" font-size="11.5" font-style="italic" text-anchor="end" fill="#3a3a3a" stroke="#fff" stroke-width="0.25" textLength="46" lengthAdjust="spacingAndGlyphs">wspólna</text>
<text x="159.4" y="297.8" font-size="11.5" font-style="italic" text-anchor="end" fill="#3a3a3a" stroke="#fff" stroke-width="0.25" textLength="94.2" lengthAdjust="spacingAndGlyphs">klatka schodowa</text>
</svg>
</body></html>
